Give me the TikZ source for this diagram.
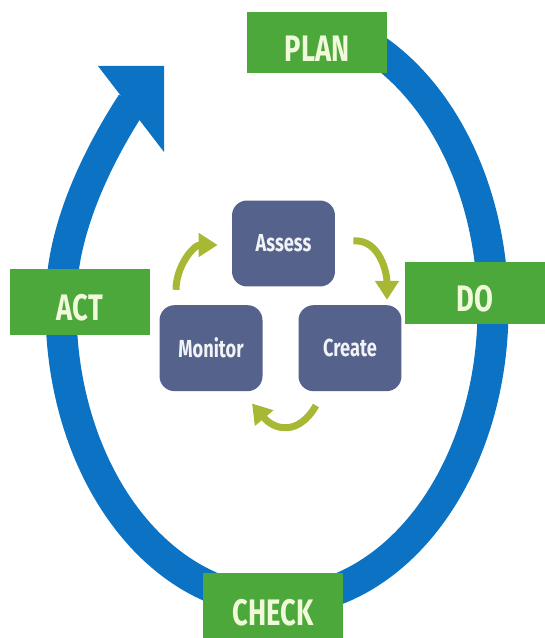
\documentclass[tikz,border=0pt]{standalone}
\usepackage{fontspec}
\setmainfont{Fira Sans}
\usepackage{tikz}
\usetikzlibrary{arrows.meta, positioning}
\definecolor{ringblue}{RGB}{12,115,196}
\definecolor{phasegreen}{RGB}{76,168,58}
\definecolor{phasetext}{RGB}{240,250,218}
\definecolor{taskslate}{RGB}{84,98,140}
\definecolor{cycgreen}{RGB}{168,184,52}
\newcommand{\slim}[1]{\scalebox{0.74}[1]{#1}}
\tikzstyle{phase} = [rectangle, fill=phasegreen, minimum width=2.8cm, minimum height=1.24cm, text=phasetext, font=\fontsize{21}{21}\selectfont\bfseries, text height=0.76cm, text depth=0pt]
\tikzstyle{task} = [rectangle, rounded corners=0.3cm, fill=taskslate, minimum width=2.06cm, minimum height=1.72cm, text=white!92!taskslate, font=\fontsize{14}{14}\selectfont\bfseries]
\tikzstyle{ring} = [draw=ringblue, line width=0.62cm, line join=round]
\tikzstyle{cyc} = [draw=cycgreen, line width=0.14cm, -{Triangle[width=0.46cm, length=0.38cm]}]
\begin{document}
\begin{tikzpicture}[x=0.02cm, y=0.02cm, node distance=0.36cm]
\useasboundingbox (0,0) rectangle (544,-638);

% big loop
\draw[ring] plot[domain=70:-185, samples=80, smooth] ({277+216*cos(\x)}, {-309+292*sin(\x)}) .. controls (66,-225) and (95,-160) .. (132,-103);
\fill[ringblue] (98,-66) -- (164,-66) -- (164,-152) -- cycle;

% phases
\node[phase] (plan) at (317,-42.5) {\slim{PLAN}};
\node[phase] (do) at (475,-293) {\slim{DO}};
\node[phase, minimum height=1.32cm] (act) at (80,-302) {\slim{ACT}};
\node[phase, minimum height=1.34cm] (check) at (273,-606.5) {\slim{CHECK}};

% inner cycle
\node[task] (assess) at (283.5,-243.5) {\slim{Assess}};
\node[task, below=of assess, xshift=-1.45cm] (monitor) {\slim{Monitor}};
\node[task, below=of assess, xshift=1.33cm] (create) {\slim{Create}};

\draw[cyc] ([shift={(-35,15)}]monitor.north) to[out=90, in=180] ([shift={(-14,-1.5)}]assess.west);
\draw[cyc] ([shift={(18,2.5)}]assess.east) to[out=5, in=90] ([shift={(37,5)}]create.north);
\draw[cyc] ([shift={(-34,-14)}]create.south) to[out=-120, in=-50, looseness=1.4] ([shift={(41,-12)}]monitor.south);

\end{tikzpicture}
\end{document}
